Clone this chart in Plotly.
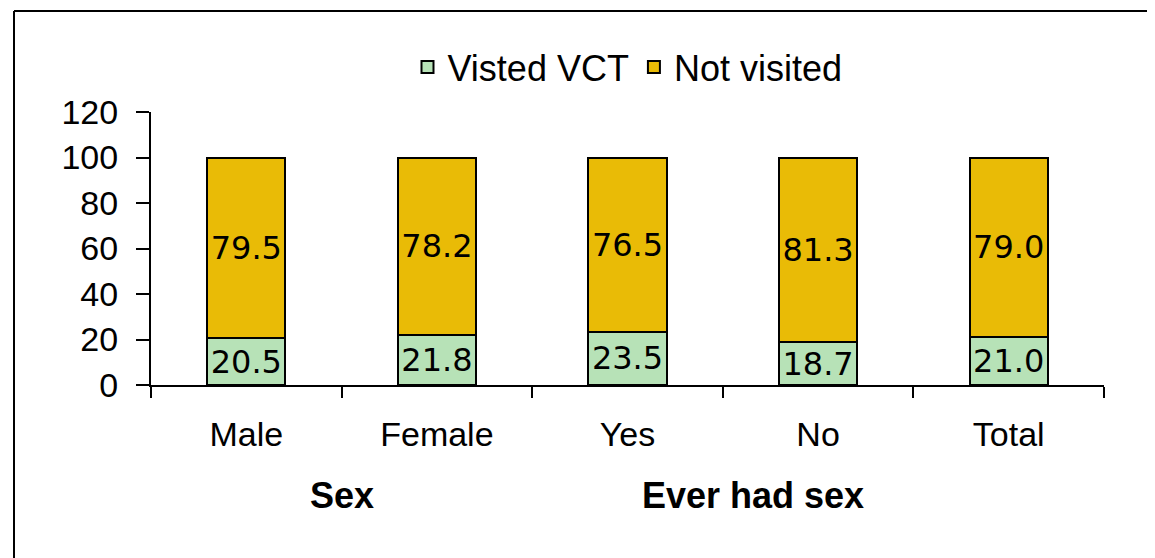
import plotly.graph_objects as go

categories = ["Male", "Female", "Yes", "No", "Total"]
visited = [20.5, 21.8, 23.5, 18.7, 21.0]
not_visited = [79.5, 78.2, 76.5, 81.3, 79.0]
groups = [("Sex", 0.5), ("Ever had sex", 2.66)]
y_ticks = [0, 20, 40, 60, 80, 100, 120]

# page body has an 8px margin, so work in screen pixels minus 8
OFF = 8
W, H = 1155 - OFF, 558 - OFF
L, R, T, B = 151 - OFF, 51, 112 - OFF, 173
pw, ph = W - L - R, H - T - B


def px_x(x):
    return (x - OFF - L) / pw


def px_y(y):
    return (H - B - (y - OFF)) / ph


label_font = dict(family="DejaVu Sans", size=32, color="black")

fig = go.Figure()
fig.add_trace(go.Bar(
    x=categories, y=visited, name="Visted VCT",
    marker=dict(color="#B7E2B7", line=dict(color="black", width=2)),
    text=[f"{v:.1f}" for v in visited], textposition="inside",
    insidetextanchor="middle", textfont=label_font, constraintext="none",
))
fig.add_trace(go.Bar(
    x=categories, y=not_visited, name="Not visited",
    marker=dict(color="#E9BB06", line=dict(color="black", width=2)),
    text=[f"{v:.1f}" for v in not_visited], textposition="inside",
    insidetextanchor="middle", textfont=label_font, constraintext="none",
))

for name, pos in groups:
    fig.add_annotation(x=pos, y=px_y(495), xref="x", yref="paper", text=f"<b>{name}</b>",
                       showarrow=False, xanchor="center", yanchor="middle",
                       font=dict(family="Arial", size=36, color="black"))

# chart frame (left, top and the short right stub)
frame = dict(type="line", xref="paper", yref="paper", line=dict(color="black", width=2))
fig.add_shape(**frame, x0=px_x(14), x1=px_x(14), y0=px_y(11), y1=px_y(570))
fig.add_shape(**frame, x0=px_x(14), x1=px_x(1153), y0=px_y(11), y1=px_y(11))
fig.add_shape(**frame, x0=px_x(1153), x1=px_x(1153), y0=px_y(11), y1=px_y(20))

fig.update_layout(
    width=W, height=H,
    margin=dict(l=L, r=R, t=T, b=B),
    barmode="stack", bargap=0.59,
    plot_bgcolor="white", paper_bgcolor="white",
    font=dict(family="Arial", size=34, color="black"),
    legend=dict(orientation="h", x=0.5, xanchor="center", y=px_y(67), yanchor="middle",
                font=dict(size=36), itemsizing="constant", traceorder="normal"),
    xaxis=dict(showline=True, linecolor="black", linewidth=2, ticks="outside", ticklen=11,
               tickwidth=2, tickcolor="black", tickson="boundaries", showgrid=False,
               ticklabelstandoff=18),
    yaxis=dict(range=[0, 120], tickvals=y_ticks, showline=True, linecolor="black", linewidth=2,
               ticks="outside", ticklen=13, tickwidth=2, tickcolor="black", showgrid=False,
               zeroline=False, ticklabelstandoff=11),
)
fig.write_html("out.html")
